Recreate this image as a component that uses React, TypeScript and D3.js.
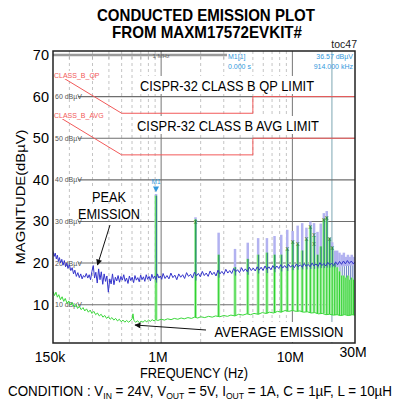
import * as d3 from 'd3';

// frequency in kHz, level in dBµV
const PEAK_TRACE: [number, number][] = [
  [150, 22.8], [153, 21.6], [156, 22.4], [159, 21.0], [162, 21.9], [165, 20.4], [168, 21.3], [171, 20.0], [175, 20.9],
  [179, 19.5], [183, 20.6], [187, 19.1], [191, 20.0], [195, 18.7], [200, 19.6], [205, 18.2], [210, 18.9], [215, 17.4],
  [220, 18.3], [226, 16.8], [232, 17.7], [238, 16.5], [244, 17.4], [250, 16.2], [256, 17.0], [262, 16.6], [269, 17.5],
  [276, 16.4], [283, 17.2], [290, 16.0], [297, 18.0], [304, 19.4], [311, 16.4], [318, 17.8], [326, 15.2], [334, 18.6],
  [342, 16.0], [350, 17.9], [359, 14.9], [368, 17.4], [377, 15.6], [386, 16.9], [396, 13.0], [406, 16.2], [416, 15.0],
  [426, 17.4], [437, 14.8], [448, 16.6], [459, 15.7], [470, 17.0], [482, 15.4], [494, 16.8], [506, 15.9], [519, 17.2],
  [532, 15.6], [545, 16.4], [559, 15.1], [573, 16.9], [587, 15.8], [602, 16.6], [617, 15.3], [632, 17.0], [648, 15.9],
  [664, 16.5], [681, 15.5], [698, 17.1], [715, 16.0], [733, 16.7], [751, 15.6], [770, 17.2], [789, 16.1], [809, 16.8],
  [829, 15.7], [850, 17.3], [871, 16.3], [893, 16.9], [915, 16.0], [938, 17.4], [961, 16.4], [985, 16.9], [1010, 16.1],
  [1035, 17.5], [1071, 16.3], [1108, 17.0], [1147, 16.2], [1187, 17.6], [1229, 16.5], [1272, 17.1], [1316, 16.0],
  [1362, 17.4], [1410, 16.6], [1459, 17.2], [1510, 16.3], [1563, 17.7], [1618, 16.8], [1675, 17.3], [1733, 16.4],
  [1794, 17.8], [1857, 16.9], [1922, 17.5], [1989, 16.7], [2059, 18.0], [2131, 17.0], [2205, 17.6], [2282, 16.8],
  [2362, 18.1], [2445, 17.2], [2531, 17.8], [2619, 16.9], [2711, 18.3], [2806, 17.4], [2904, 18.0], [3006, 17.3],
  [3111, 18.5], [3220, 17.6], [3333, 18.2], [3449, 17.5], [3570, 18.7], [3695, 17.9], [3824, 18.4], [3958, 17.7],
  [4097, 18.9], [4240, 18.0], [4388, 18.6], [4542, 17.9], [4701, 19.0], [4865, 18.2], [5035, 18.8], [5211, 18.1],
  [5394, 19.1], [5582, 18.3], [5778, 19.0], [5980, 18.2], [6189, 19.3], [6406, 18.5], [6630, 19.1], [6862, 18.4],
  [7102, 19.4], [7351, 18.6], [7608, 19.3], [7874, 18.7], [8150, 19.6], [8435, 18.8], [8730, 19.4], [9036, 18.8],
  [9352, 19.7], [9679, 19.0], [10018, 19.5], [10369, 18.9], [10731, 19.8], [11107, 19.1], [11496, 19.6], [11898, 19.0],
  [12315, 19.9], [12746, 19.2], [13192, 19.7], [13653, 19.1], [14131, 20.0], [14626, 19.3], [15138, 19.8], [15668, 19.2],
  [16216, 20.1], [16783, 19.4], [17371, 19.9], [17979, 19.3], [18608, 20.2], [19259, 19.5], [19933, 20.0], [20631, 19.4],
  [21353, 20.3], [22100, 19.6], [22874, 20.4], [23674, 19.7], [24503, 20.5], [25361, 19.8], [26248, 20.6], [27167, 19.9],
  [28118, 20.5], [29102, 19.8], [30000, 20.3],
];

const AVG_TRACE: [number, number][] = [
  [150, 13.2], [154, 12.2], [158, 13.0], [162, 11.8], [166, 12.4], [171, 11.2], [176, 11.9], [181, 10.8], [186, 11.5],
  [192, 10.3], [198, 10.9], [204, 9.9], [210, 10.5], [217, 9.5], [224, 10.1], [231, 9.1], [238, 9.6], [246, 8.8],
  [254, 9.3], [262, 8.5], [270, 9.0], [279, 8.2], [288, 8.7], [297, 7.9], [307, 8.4], [317, 7.6], [327, 8.0], [338, 7.3],
  [349, 7.7], [360, 7.0], [372, 7.4], [384, 6.7], [396, 7.1], [409, 6.5], [422, 6.9], [436, 6.3], [450, 6.7], [465, 6.1],
  [480, 6.5], [496, 5.9], [512, 6.3], [529, 5.8], [546, 6.2], [564, 5.8], [582, 6.1], [601, 6.6], [610, 7.8], [620, 6.2],
  [640, 5.8], [661, 6.1], [683, 5.7], [705, 6.0], [728, 5.8], [752, 6.2], [777, 5.9], [802, 6.3], [828, 6.0], [855, 6.4],
  [883, 6.1], [912, 6.4], [942, 6.2], [1000, 6.5], [1060, 6.3], [1120, 6.6], [1190, 6.4], [1260, 6.7], [1340, 6.5],
  [1420, 6.8], [1500, 6.6], [1600, 6.9], [1700, 6.7], [1800, 7.0], [1900, 6.8], [2000, 7.1], [2150, 6.9], [2300, 7.2],
  [2450, 7.0], [2600, 7.3], [2800, 7.1], [3000, 7.4], [3200, 7.2], [3400, 7.5], [3650, 7.3], [3900, 7.7], [4200, 7.5],
  [4500, 7.8], [4800, 7.6], [5100, 7.9], [5500, 7.7], [5900, 8.1], [6300, 7.9], [6700, 8.2], [7200, 8.0], [7700, 8.4],
  [8200, 8.2], [8800, 8.6], [9400, 8.4], [10000, 8.6], [10700, 8.4], [11400, 8.5], [12200, 8.2], [13000, 8.3],
  [13900, 8.0], [14800, 8.1], [15800, 7.8], [16900, 7.9], [18000, 7.6], [19200, 7.7], [20500, 7.5], [21900, 7.6],
  [23400, 7.4], [25000, 7.6], [26700, 7.4], [28500, 7.6], [30000, 7.5],
];

// harmonic spikes: [kHz, peak top, peak bottom]
const PEAK_SPIKES: [number, number, number][] = [
  [914, 36.6, 15.3], [1828, 31.0, 15.8], [2742, 27.3, 16.5], [3656, 23.4, 17.0], [4570, 24.9, 17.2], [5484, 26.0, 17.5],
  [6398, 26.0, 17.6], [7312, 26.5, 17.8], [8226, 26.8, 18.0], [9140, 28.0, 18.1], [10054, 27.7, 18.3], [10968, 29.0, 18.4],
  [11882, 29.6, 18.5], [12796, 28.5, 18.5], [13710, 30.0, 18.6], [14624, 29.6, 18.6], [15538, 27.5, 18.7], [16452, 29.5, 18.8],
  [17366, 32.0, 18.8], [18280, 32.5, 18.9], [19194, 26.0, 18.9], [20108, 25.0, 19.0], [21022, 23.0, 19.0], [21936, 23.0, 19.1],
  [22850, 22.5, 19.1], [23764, 22.0, 19.2], [24678, 22.5, 19.2], [25592, 21.5, 19.3], [26506, 22.0, 19.3], [27420, 21.5, 19.4],
  [28334, 22.0, 19.4], [29248, 21.5, 19.5],
];

// harmonic spikes: [kHz, average top]
const AVG_SPIKES: [number, number][] = [
  [914, 36.2], [1828, 30.5], [2742, 22.0], [3656, 19.0], [4570, 21.0], [5484, 22.0], [6398, 22.5], [7312, 22.0],
  [8226, 22.0], [9140, 23.4], [10054, 25.2], [10968, 24.6], [11882, 23.0], [12796, 25.8], [13710, 28.8], [14624, 26.5],
  [15538, 22.0], [16452, 24.0], [17366, 30.5], [18280, 31.0], [19194, 26.0], [20108, 23.8], [21022, 20.0], [21936, 19.0],
  [22850, 18.0], [23764, 17.0], [24678, 17.0], [25592, 16.5], [26506, 17.0], [27420, 16.0], [28334, 16.5], [29248, 16.0],
];

const AVG_MARKS: [number, number][] = [
  [1828, 30.1], [9140, 23.4], [10054, 25.2], [10968, 24.6], [12796, 25.8], [13710, 28.8], [14624, 26.9], [14624, 24.6],
  [17366, 30.5], [18280, 31.0], [19194, 26.0], [20108, 23.8],
];

// CISPR-32 class B limits: [kHz, dBµV]
const QP_LIMIT: [number, number][] = [[150, 66], [500, 56], [5000, 56], [5000, 60], [30000, 60]];
const AVG_LIMIT: [number, number][] = [[150, 56], [500, 46], [5000, 46], [5000, 50], [30000, 50]];

const Y_TICKS = [70, 60, 50, 40, 30, 20, 10];
const GRID_LEVELS = [60, 50, 40, 30, 20, 10];
const X_LABELS: [number, string][] = [[150, '150k'], [1000, '1M'], [10000, '10M'], [30000, '30M']];
const MINOR_FREQS = [200, 300, 400, 500, 600, 700, 800, 900, 2000, 3000, 4000, 5000, 6000, 7000, 8000, 9000, 20000];
const MAJOR_FREQS = [1000, 10000];

const FONT = "'Liberation Sans Narrow', 'Liberation Sans', Arial, sans-serif";
const SMALL = "'Liberation Sans', Arial, sans-serif";

// average trace level below a spike (nearest stored point)
function avgAt(f: number): number {
  let best = AVG_TRACE[0];
  for (const p of AVG_TRACE) {
    if (Math.abs(Math.log(p[0] / f)) < Math.abs(Math.log(best[0] / f))) best = p;
  }
  return best[1];
}

export default function App() {
  const W = 394;
  const H = 405;
  const frame = { left: 53, right: 355, top: 51, bottom: 343 };

  const x = d3.scaleLog().domain([150, 30000]).range([frame.left, frame.right]);
  const y = d3.scaleLinear().domain([0, 70]).range([346.3, 55]);

  const line = d3.line<[number, number]>().x((d) => x(d[0])).y((d) => y(d[1]));

  const blue = '#3535cc';
  const red = '#f25a5a';
  const mkBlue = '#3399dd';

  return (
    <svg width={W} height={H} style={{ position: 'absolute', left: 0, top: 0, background: '#fff' }} fontFamily={FONT}>
      <defs>
        <clipPath id="plot">
          <rect x={frame.left} y={frame.top} width={frame.right - frame.left} height={frame.bottom - frame.top} />
        </clipPath>
        <marker id="arr" viewBox="0 0 10 10" refX="9" refY="5" markerWidth="7" markerHeight="6" orient="auto">
          <path d="M0,0 L10,5 L0,10 z" fill="#111" />
        </marker>
      </defs>

      {/* title */}
      <text x={206} y={21} textAnchor="middle" fontSize={17} fontWeight="bold" textLength={218} lengthAdjust="spacingAndGlyphs">CONDUCTED EMISSION PLOT</text>
      <text x={207} y={38} textAnchor="middle" fontSize={17} fontWeight="bold" textLength={190} lengthAdjust="spacingAndGlyphs">FROM MAXM17572EVKIT#</text>
      <text x={357} y={48} textAnchor="end" fontSize={10.5} fill="#222" fontFamily={SMALL}>toc47</text>

      <g clipPath="url(#plot)">
        {/* vertical grid */}
        {MINOR_FREQS.map((f) => (
          <line key={f} x1={x(f)} x2={x(f)} y1={frame.top} y2={frame.bottom}
            stroke={f === 20000 ? '#a8c4cc' : '#b5b5b5'} strokeWidth={f === 20000 ? 1.5 : 0.8}
            strokeDasharray={f === 20000 ? undefined : '3,3'} />
        ))}
        {MAJOR_FREQS.map((f) => (
          <line key={f} x1={x(f)} x2={x(f)} y1={frame.top} y2={frame.bottom} stroke="#777" strokeWidth={1} />
        ))}
        {/* horizontal grid */}
        {GRID_LEVELS.map((v) => (
          <line key={v} x1={78} x2={frame.right} y1={y(v)} y2={y(v)} stroke="#6e6e6e" strokeWidth={1.1} />
        ))}
        {GRID_LEVELS.map((v) => (
          <text key={v} x={55} y={y(v) + 2.5} fontSize={7} fill="#555" fontFamily={SMALL}>{`${v} dBµV`}</text>
        ))}
        {/* top bar */}
        <line x1={frame.left} x2={227} y1={y(70)} y2={y(70)} stroke="#9a9a9a" strokeWidth={2.5} />
        {MINOR_FREQS.filter((f) => x(f) < 227).map((f) => (
          <line key={f} x1={x(f)} x2={x(f)} y1={y(70)} y2={y(70) + 4} stroke="#aaa" strokeWidth={0.8} />
        ))}
        <text x={x(1000)} y={58} textAnchor="middle" fontSize={6} fill="#666" fontFamily={SMALL}>1 MHz</text>

        {/* peak spikes, light bands */}
        {PEAK_SPIKES.map(([f, top, bot], i) => (
          <line key={i} x1={x(f)} x2={x(f)} y1={y(bot)} y2={y(top)} stroke="#b2b2f0" strokeWidth={2.5} />
        ))}
        {/* average spikes, light bands */}
        {AVG_SPIKES.map(([f, v], i) => (
          <line key={i} x1={x(f)} x2={x(f)} y1={y(avgAt(f))} y2={y(v)} stroke="#a6eea6" strokeWidth={3} />
        ))}
        {AVG_SPIKES.map(([f, v], i) => (
          <line key={i} x1={x(f)} x2={x(f)} y1={y(avgAt(f))} y2={y(v)} stroke="#2ed12e" strokeWidth={1} />
        ))}
        <path d={line(AVG_TRACE) ?? ''} fill="none" stroke="#3ad83a" strokeWidth={1} />
        <path d={line(PEAK_TRACE) ?? ''} fill="none" stroke={blue} strokeWidth={1} />
        {PEAK_SPIKES.map(([f, top, bot], i) => (
          <line key={i} x1={x(f) + 0.5} x2={x(f) + 0.5} y1={y(bot)} y2={y(Math.min(top, AVG_SPIKES[i][1]))} stroke="#2a4fa8" strokeWidth={1} opacity={0.7} />
        ))}
        {AVG_MARKS.map(([f, v], i) => (
          <text key={i} x={x(f)} y={y(v) + 2.5} textAnchor="middle" fontSize={7} fill="#2f7a2f" fontFamily={SMALL}>x</text>
        ))}
        {/* marker M1 */}
        <path d={`M${x(914) - 3},${y(38.4)} L${x(914) + 3},${y(38.4)} L${x(914)},${y(37.0)} z`} fill={mkBlue} />
        <text x={x(914)} y={y(39.0)} textAnchor="middle" fontSize={6.5} fill={mkBlue} fontFamily={SMALL}>M1</text>

        {/* limit lines */}
        <path d={line(QP_LIMIT) ?? ''} fill="none" stroke={red} strokeWidth={1} />
        <path d={line(AVG_LIMIT) ?? ''} fill="none" stroke={red} strokeWidth={1} />
        <rect x={53} y={71} width={36} height={8} fill="#fff" />
        <text x={54} y={77.5} fontSize={7} fill={red} fontFamily={SMALL}>CLASS_B_QP</text>
        <rect x={53} y={111} width={38} height={8} fill="#fff" />
        <text x={54} y={117.5} fontSize={7} fill={red} fontFamily={SMALL}>CLASS_B_AVG</text>

        {/* annotations */}
        <rect x={138} y={76} width={180} height={18} fill="#fff" />
        <text x={227} y={91} textAnchor="middle" fontSize={15} textLength={174} lengthAdjust="spacingAndGlyphs">CISPR-32 CLASS B QP LIMIT</text>
        <rect x={135} y={116} width={187} height={18} fill="#fff" />
        <text x={228} y={131} textAnchor="middle" fontSize={15} textLength={182} lengthAdjust="spacingAndGlyphs">CISPR-32 CLASS B AVG LIMIT</text>

        <rect x={90} y={189} width={38} height={13} fill="#fff" />
        <rect x={76} y={205} width={65} height={14} fill="#fff" />
        <text x={109} y={201.5} textAnchor="middle" fontSize={14} textLength={34} lengthAdjust="spacingAndGlyphs">PEAK</text>
        <text x={109} y={219} textAnchor="middle" fontSize={14} textLength={62} lengthAdjust="spacingAndGlyphs">EMISSION</text>
        <line x1={110} y1={225} x2={97.5} y2={265} stroke="#111" strokeWidth={1} markerEnd="url(#arr)" />

        <rect x={211} y={322} width={136} height={20} fill="#fff" />
        <text x={279} y={336.5} textAnchor="middle" fontSize={14} textLength={129} lengthAdjust="spacingAndGlyphs">AVERAGE EMISSION</text>
        <line x1={206} y1={330} x2={135} y2={325} stroke="#111" strokeWidth={1} markerEnd="url(#arr)" />

        {/* marker readout */}
        <text x={228} y={58.5} fontSize={7} fill={mkBlue} fontFamily={SMALL}>M1[1]</text>
        <text x={228} y={69} fontSize={7} fill={mkBlue} fontFamily={SMALL}>0.000 s</text>
        <text x={353} y={58.5} textAnchor="end" fontSize={7} fill={mkBlue} fontFamily={SMALL}>36.57 dBµV</text>
        <text x={353} y={69} textAnchor="end" fontSize={7} fill={mkBlue} fontFamily={SMALL}>914.000 kHz</text>
      </g>

      <rect x={frame.left} y={frame.top} width={frame.right - frame.left} height={frame.bottom - frame.top} fill="none" stroke="#222" strokeWidth={1.5} />

      {/* y axis */}
      {Y_TICKS.map((v) => (
        <text key={v} x={49} y={y(v) + 5} textAnchor="end" fontSize={14.5}>{v}</text>
      ))}
      <text transform="translate(25,197) rotate(-90)" textAnchor="middle" fontSize={13.5} textLength={135} lengthAdjust="spacingAndGlyphs">MAGNITUDE(dBµV)</text>

      {/* x axis */}
      {X_LABELS.map(([f, s]) => (
        <text key={s} x={f === 150 ? 50 : f === 1000 ? 158 : x(f) - 2} y={f === 30000 ? 356.5 : 361.5} textAnchor="middle" fontSize={14}>{s}</text>
      ))}
      <text x={194} y={377.5} textAnchor="middle" fontSize={14} textLength={108} lengthAdjust="spacingAndGlyphs">FREQUENCY (Hz)</text>

      <text x={8} y={396} fontSize={14} textLength={384} lengthAdjust="spacingAndGlyphs">
        CONDITION : V<tspan fontSize={9} dy={3}>IN</tspan><tspan dy={-3}> = 24V, V</tspan><tspan fontSize={9} dy={3}>OUT</tspan><tspan dy={-3}> = 5V, I</tspan><tspan fontSize={9} dy={3}>OUT</tspan><tspan dy={-3}> = 1A, C = 1µF, L = 10µH</tspan>
      </text>
    </svg>
  );
}
